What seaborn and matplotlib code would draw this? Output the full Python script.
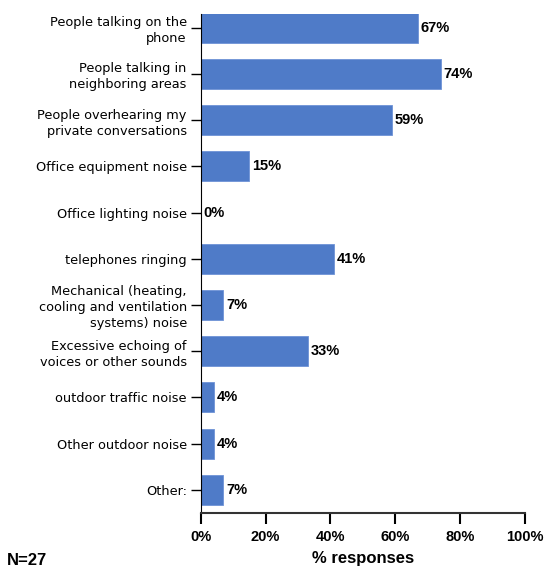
import matplotlib
matplotlib.use("Agg")
import matplotlib.pyplot as plt
import seaborn as sns
import pandas as pd

# dados
categorias = [
    "People talking on the\nphone",
    "People talking in\nneighboring areas",
    "People overhearing my\nprivate conversations",
    "Office equipment noise",
    "Office lighting noise",
    "telephones ringing",
    "Mechanical (heating,\ncooling and ventilation\nsystems) noise",
    "Excessive echoing of\nvoices or other sounds",
    "outdoor traffic noise",
    "Other outdoor noise",
    "Other:",
]
percentuais = [67, 74, 59, 15, 0, 41, 7, 33, 4, 4, 7]
xticks = [0, 20, 40, 60, 80, 100]

df = pd.DataFrame({"categoria": categorias, "pct": percentuais})

sns.set_style("ticks")
plt.rcParams["font.family"] = ["Liberation Sans", "DejaVu Sans"]
plt.rcParams["text.color"] = "black"
plt.rcParams["axes.labelcolor"] = "black"
plt.rcParams["xtick.color"] = "black"
plt.rcParams["ytick.color"] = "black"

fig = plt.figure(figsize=(5.47, 5.75), dpi=100)
ax = fig.add_axes([0.367, 0.108, 0.593, 0.868])

sns.barplot(data=df, x="pct", y="categoria", orient="h", color="#4F7BC8",
            saturation=1, width=0.65, edgecolor="#6E93D6", linewidth=0.6, ax=ax)

for i, v in enumerate(percentuais):
    ax.text(v + 0.8, i, f"{v}%", va="center", ha="left",
            fontsize=10.5, fontweight="bold", color="black")

ax.set_xlim(0, 100)
ax.set_ylim(10.5, -0.3)
ax.set_xticks(xticks)
ax.set_xticklabels([f"{t}%" for t in xticks], fontsize=10.5, fontweight="bold")
for lbl in ax.get_yticklabels():
    lbl.set_fontfamily("DejaVu Sans")
    lbl.set_fontsize(9.3)
    lbl.set_linespacing(1.3)
ax.tick_params(axis="y", length=7, width=1, pad=3)
ax.tick_params(axis="x", length=8, width=1.5, pad=4)
ax.set_ylabel("")
ax.set_xlabel("% responses", fontsize=12, fontweight="bold", labelpad=5)

for s in ["top", "right"]:
    ax.spines[s].set_visible(False)
ax.spines["left"].set_color("black")
ax.spines["bottom"].set_color("#333333")
ax.spines["bottom"].set_linewidth(1.5)

fig.text(0.012, 0.018, "N=27", fontsize=12, fontweight="bold")

fig.savefig("out.png", dpi=100)
